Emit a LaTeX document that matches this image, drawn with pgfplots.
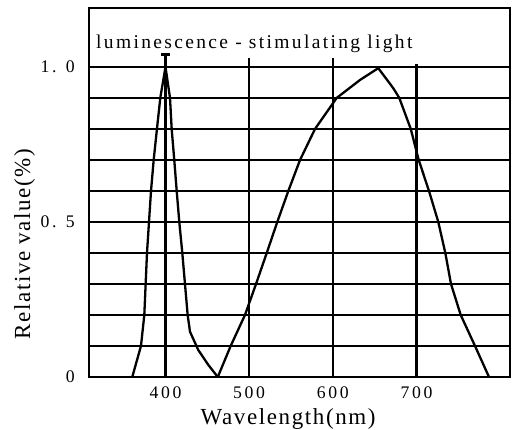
\documentclass[border=0pt]{standalone}
\usepackage{fontspec}
\setmainfont{Liberation Serif}
\usepackage{pgfplots}
\pgfplotsset{compat=1.18}

\newcommand\tickfont{\fontsize{17.7bp}{20bp}\selectfont\addfontfeature{LetterSpace=15}}
\newcommand\labelfont{\fontsize{23bp}{26bp}\selectfont\addfontfeature{LetterSpace=7}}
\newcommand\titlefont{\fontsize{19.5bp}{22bp}\selectfont\addfontfeature{LetterSpace=12}}

\begin{document}
\begin{tikzpicture}
\useasboundingbox (-89bp,-53bp) rectangle (429bp,377bp);
\begin{axis}[
    scale only axis,
    width=421bp, height=369bp,
    xmin=308.6, xmax=811.7,
    ymin=0, ymax=1.19,
    axis line style={line width=2bp},
    xtick={400,500,600,700},
    xticklabels={400,500,600,700},
    ytick={0,0.1,0.2,0.3,0.4,0.5,0.6,0.7,0.8,0.9,1.0},
    yticklabels={0,,,,,0. 5,,,,,1. 0},
    major tick length=0pt,
    ymajorgrids,
    major grid style={black, line width=1.8bp},
    xticklabel style={anchor=north, inner sep=0pt, yshift=-10bp, font=\tickfont},
    yticklabel style={anchor=east, inner sep=0pt, xshift=-14bp, font=\tickfont},
    xlabel={Wavelength(nm)},
    ylabel={Relative value(\%)},
    xlabel style={at={(axis description cs:0.473,-0.130)}, anchor=base, inner sep=0pt, font=\labelfont},
    ylabel style={at={(axis description cs:-0.140,0.360)}, anchor=base, inner sep=0pt, font=\labelfont},
]

% vertical grid lines (they stop just above 1.0)
\addplot [black, line width=2.1bp] coordinates {(400,0) (400,1.04)};
\addplot [black, line width=2.1bp] coordinates {(500,0) (500,1.03)};
\addplot [black, line width=2.1bp] coordinates {(600,0) (600,1.03)};
\addplot [black, line width=2.1bp] coordinates {(700,0) (700,1.01)};
% cap on the 400 nm peak
\addplot [black, line width=2.6bp] coordinates {(395,1.04) (405,1.04)};

% narrow peak
\addplot [black, line width=2.3bp, line join=round] coordinates {
 (360.3,0) (370.7,0.1) (374.7,0.2) (376.3,0.3) (377.9,0.4) (380.3,0.5)
 (382.7,0.6) (385.9,0.7) (389.8,0.8) (393.8,0.9) (400,1.0)
 (405.4,0.9) (407.4,0.8) (410.5,0.7) (413.4,0.6) (416.5,0.5) (420.1,0.4)
 (423.3,0.3) (426.5,0.2) (429.3,0.146) (439.2,0.087) (451.2,0.039) (462.5,0)
};

% broad peak
\addplot [black, line width=2.3bp, line join=round] coordinates {
 (462.5,0) (477.9,0.1) (495,0.2) (508.2,0.3) (521,0.4) (533.6,0.5)
 (546.8,0.6) (560.8,0.7) (578.7,0.8) (604.6,0.9) (632.5,0.958) (654.3,0.996)
 (672.3,0.931) (679.4,0.9) (693.1,0.8) (702.6,0.7) (714.9,0.6) (726,0.5)
 (734.4,0.4) (741.2,0.3) (752.8,0.2) (769.9,0.1) (786.6,0)
};

\node [anchor=base west, inner sep=0pt, font=\titlefont]
  at (axis description cs:0.0166,0.8908) {luminescence - stimulating light};
\end{axis}
\end{tikzpicture}
\end{document}
